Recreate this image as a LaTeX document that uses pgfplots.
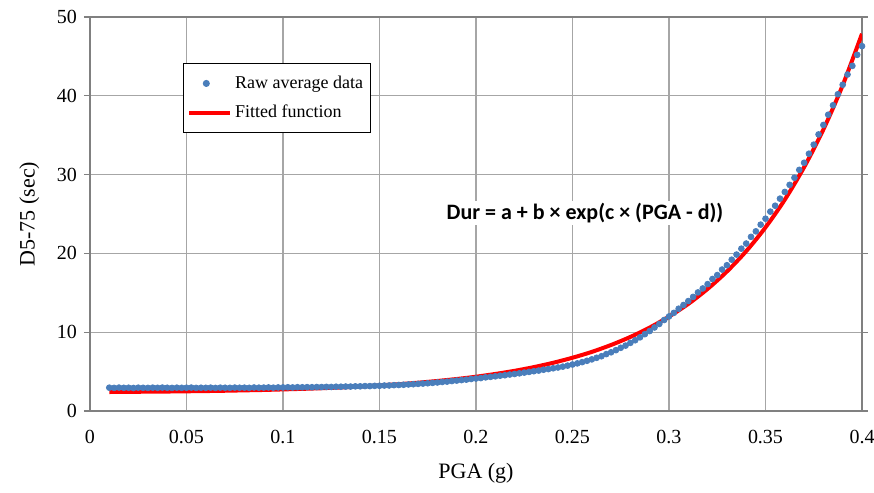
\documentclass[border=0pt]{standalone}
\usepackage{pgfplots}
\pgfplotsset{compat=1.18}
\usepackage{fontspec}
\setmainfont{Liberation Serif}
\newfontfamily\tnr{Liberation Serif}
\newfontfamily\calib{Carlito}
\definecolor{rawblue}{HTML}{4A7EBB}
\definecolor{gridgray}{HTML}{A6A6A6}
\definecolor{framegray}{HTML}{808080}
\pgfplotsset{longline/.style={legend image code/.code={\draw[##1] (0cm,0cm) -- (0.72cm,0cm);}}}
\begin{document}
\begin{tikzpicture}
\begin{axis}[
  name=ax,
  scale only axis,
  width=386pt, height=197pt,
  xmin=0, xmax=0.4, ymin=0, ymax=50,
  xtick={0,0.05,0.1,0.15,0.2,0.25,0.3,0.35,0.4},
  xticklabels={0,0.05,0.1,0.15,0.2,0.25,0.3,0.35,0.4},
  ytick={0,10,20,30,40,50},
  grid=major,
  grid style={gridgray, line width=0.6pt},
  axis line style={framegray, line width=0.7pt},
  tick align=outside,
  xtick style={draw=none},
  ytick style={framegray, line width=0.6pt},
  major tick length=3pt,
  tick label style={font=\tnr\fontsize{10}{12}\selectfont},
  /pgf/number format/assume math mode=true,
  xlabel={PGA (g)},
  ylabel={D5-75 (sec)},
  label style={font=\tnr\fontsize{11}{13}\selectfont},
  xlabel style={yshift=-3pt},
  ylabel style={yshift=2pt},
  xticklabel style={yshift=-3pt},
  legend cell align=left,
  legend style={at={(rel axis cs:0.12,0.883)}, anchor=north west,
    draw=black, line width=0.6pt, font=\tnr\fontsize{9}{11}\selectfont,
    row sep=3pt, inner xsep=2pt, inner ysep=4pt,
    nodes={inner xsep=1.5pt}},
]
\addplot[only marks, mark=*, mark size=1.45pt, color=rawblue] table {
x y
0.0100 2.96
0.0125 2.93
0.0150 2.97
0.0175 2.94
0.0200 2.95
0.0225 2.92
0.0250 2.96
0.0275 2.94
0.0300 2.93
0.0325 2.96
0.0350 2.94
0.0375 2.97
0.0400 2.95
0.0425 2.93
0.0450 2.96
0.0475 2.94
0.0500 2.95
0.0525 2.97
0.0550 2.93
0.0575 2.95
0.0600 2.94
0.0625 2.96
0.0650 2.93
0.0675 2.96
0.0700 2.95
0.0725 2.94
0.0750 2.97
0.0775 2.95
0.0800 2.96
0.0825 2.94
0.0850 2.98
0.0875 2.96
0.0900 2.97
0.0925 2.99
0.0950 2.96
0.0975 2.99
0.1000 2.99
0.1025 3.01
0.1050 2.99
0.1075 3.02
0.1100 3.01
0.1125 3.03
0.1150 3.02
0.1175 3.04
0.1200 3.04
0.1225 3.06
0.1250 3.05
0.1275 3.08
0.1300 3.08
0.1325 3.10
0.1350 3.10
0.1375 3.13
0.1400 3.13
0.1425 3.16
0.1450 3.16
0.1475 3.19
0.1500 3.20
0.1525 3.23
0.1550 3.24
0.1575 3.28
0.1600 3.30
0.1625 3.33
0.1650 3.37
0.1675 3.40
0.1700 3.44
0.1725 3.48
0.1750 3.52
0.1775 3.57
0.1800 3.62
0.1825 3.68
0.1850 3.73
0.1875 3.80
0.1900 3.86
0.1925 3.92
0.1950 3.98
0.1975 4.06
0.2000 4.12
0.2025 4.18
0.2050 4.27
0.2075 4.33
0.2100 4.40
0.2125 4.48
0.2150 4.54
0.2175 4.63
0.2200 4.70
0.2225 4.78
0.2250 4.87
0.2275 4.96
0.2300 5.05
0.2325 5.13
0.2350 5.24
0.2375 5.32
0.2400 5.42
0.2425 5.52
0.2450 5.63
0.2475 5.76
0.2500 5.90
0.2525 6.04
0.2550 6.20
0.2575 6.37
0.2600 6.55
0.2625 6.75
0.2650 6.95
0.2675 7.22
0.2700 7.45
0.2725 7.72
0.2750 8.02
0.2775 8.30
0.2800 8.65
0.2825 8.98
0.2850 9.35
0.2875 9.75
0.2900 10.15
0.2925 10.60
0.2950 11.05
0.2975 11.55
0.3000 12.00
0.3025 12.45
0.3050 12.98
0.3075 13.45
0.3100 13.95
0.3125 14.48
0.3150 15.05
0.3175 15.55
0.3200 16.10
0.3225 16.75
0.3250 17.25
0.3275 17.95
0.3300 18.50
0.3325 19.20
0.3350 19.85
0.3375 20.60
0.3400 21.25
0.3425 22.10
0.3450 22.80
0.3475 23.65
0.3500 24.40
0.3525 25.30
0.3550 26.05
0.3575 26.95
0.3600 27.80
0.3625 28.70
0.3650 29.60
0.3675 30.60
0.3700 31.50
0.3725 32.65
0.3750 33.80
0.3775 35.10
0.3800 36.30
0.3825 37.60
0.3850 38.80
0.3875 40.20
0.3900 41.40
0.3925 42.70
0.3950 43.80
0.3975 45.20
0.4000 46.30
};
\addlegendentry{Raw average data}
\addplot[color=red, line width=2pt, smooth, no marks, longline] table {
x y
0.01 2.41
0.02 2.43
0.03 2.45
0.04 2.47
0.05 2.50
0.06 2.53
0.07 2.57
0.08 2.62
0.09 2.67
0.10 2.74
0.11 2.81
0.12 2.89
0.13 2.99
0.14 3.11
0.15 3.25
0.16 3.40
0.17 3.59
0.18 3.81
0.19 4.06
0.20 4.35
0.21 4.70
0.22 5.10
0.23 5.57
0.24 6.12
0.25 6.76
0.26 7.50
0.27 8.38
0.28 9.40
0.29 10.59
0.30 11.98
0.31 13.59
0.32 15.49
0.33 17.70
0.34 20.28
0.35 23.30
0.36 26.82
0.37 30.94
0.38 35.73
0.39 41.34
0.40 47.87
};
\addlegendentry{Fitted function}
\node[font=\calib\bfseries\fontsize{11}{13}\selectfont, fill=white, inner sep=1pt]
  at (axis cs:0.2565,25.1) {Dur = a + b × exp(c × (PGA - d))};
\end{axis}
\pgfresetboundingbox
\path[use as bounding box] ([shift={(-45pt,-41pt)}]ax.south west) rectangle ([shift={(6pt,8.5pt)}]ax.north east);
\end{tikzpicture}
\end{document}
